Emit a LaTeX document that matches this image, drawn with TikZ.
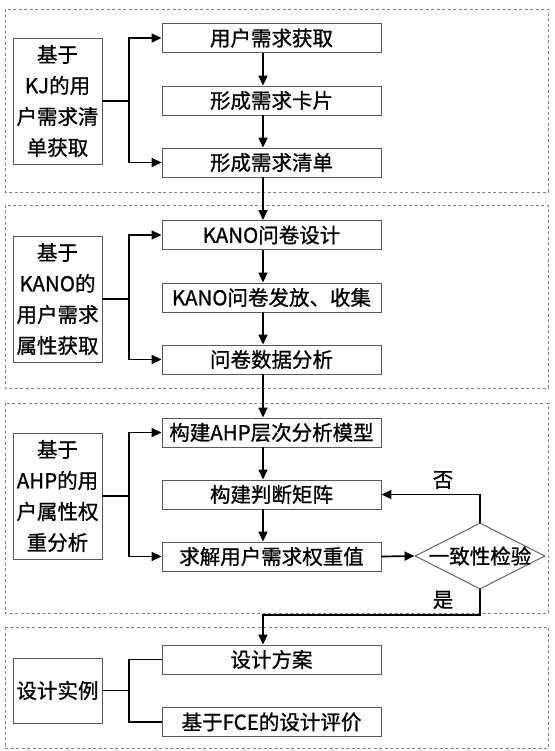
\documentclass[tikz,border=0pt]{standalone}
\usepackage{fontspec}
\newfontfamily\cjk[BoldFont={Noto Sans CJK SC},BoldFeatures={FakeBold=0.9}]{Noto Sans CJK SC}
\usetikzlibrary{arrows.meta,shapes.geometric,calc}
\begin{document}
\begin{tikzpicture}[x=1pt,y=-1pt,
  every node/.style={font=\cjk\bfseries\fontsize{20.5}{31}\selectfont, inner sep=0pt},
  lbox/.style={draw=black!65, line width=0.9pt, minimum width=89pt, minimum height=126pt, align=center},
  rbox/.style={draw=black!65, line width=0.9pt, minimum width=219pt, minimum height=29pt},
  group/.style={draw=black!50, line width=0.8pt, dash pattern=on 3pt off 2.5pt},
  conn/.style={line width=1.7pt, black},
  arr/.style={conn, -{Triangle[length=10pt,width=9pt]}},
]
\useasboundingbox (0,0) rectangle (554,751);
\draw[group] (5,9) rectangle (548,192);
\draw[group] (5,205) rectangle (548,388);
\draw[group] (5,403) rectangle (548,613);
\draw[group] (5,627) rectangle (548,748);

\coordinate (vx) at (263,0);

\node[lbox] (L1) at (57.5,101) {基于\\KJ的用\\户需求清\\单获取};
\node[rbox] (A1) at (271.5,38) {用户需求获取};
\node[rbox] (A2) at (271.5,100.5) {形成需求卡片};
\node[rbox] (A3) at (271.5,162.5) {形成需求清单};

\node[lbox] (L2) at (57.5,299) {基于\\KANO的\\用户需求\\属性获取};
\node[rbox] (B1) at (271.5,235) {KANO问卷设计};
\node[rbox] (B2) at (271.5,297.5) {KANO问卷发放、收集};
\node[rbox] (B3) at (271.5,359.5) {问卷数据分析};

\node[lbox] (L3) at (57.5,496) {基于\\AHP的用\\户属性权\\重分析};
\node[rbox] (C1) at (271.5,432.5) {构建AHP层次分析模型};
\node[rbox] (C2) at (271.5,494.5) {构建判断矩阵};
\node[rbox] (C3) at (271.5,556.5) {求解用户需求权重值};
\node[diamond, draw=black!65, line width=0.9pt, minimum width=130pt, minimum height=66pt,
      label=center:{一致性检验}] (K) at (480,556) {};

\node[lbox, minimum height=65pt] (L4) at (57.5,690.5) {设计实例};
\node[rbox] (D1) at (271.5,659.5) {设计方案};
\node[rbox] (D2) at (271.5,722) {基于FCE的设计评价};

% section 1
\coordinate (t1) at (129,101);
\draw[conn] (L1.east) -- (t1);
\draw[arr] (t1) |- (A1.west);
\draw[arr] (t1) |- (A3.west);
% section 2
\coordinate (t2) at (129,299);
\draw[conn] (L2.east) -- (t2);
\draw[arr] (t2) |- (B1.west);
\draw[arr] (t2) |- (B3.west);
% section 3
\coordinate (t3) at (129,496);
\draw[conn] (L3.east) -- (t3);
\draw[arr] (t3) |- (C1.west);
\draw[arr] (t3) |- (C3.west);
% section 4
\coordinate (t4) at (129,690.5);
\draw[conn] (L4.east) -- (t4);
\draw[conn] (t4) |- (D1.west);
\draw[conn] (t4) |- (D2.west);

% vertical flow
\draw[arr] (A1.south -| vx) -- (A2.north -| vx);
\draw[arr] (A2.south -| vx) -- (A3.north -| vx);
\draw[arr] (A3.south -| vx) -- (B1.north -| vx);
\draw[arr] (B1.south -| vx) -- (B2.north -| vx);
\draw[arr] (B2.south -| vx) -- (B3.north -| vx);
\draw[arr] (B3.south -| vx) -- (C1.north -| vx);
\draw[arr] (C1.south -| vx) -- (C2.north -| vx);
\draw[arr] (C2.south -| vx) -- (C3.north -| vx);

\draw[arr] (C3.east) -- (K.west);
\draw[arr] (K.north) |- (C2.east);
\node (no) at (443,480) {否};
\coordinate (yes) at (480,615);
\draw[arr] (K.south) -- (yes) -| (D1.north -| vx);
\node (yl) at (443,600) {是};
\end{tikzpicture}
\end{document}
